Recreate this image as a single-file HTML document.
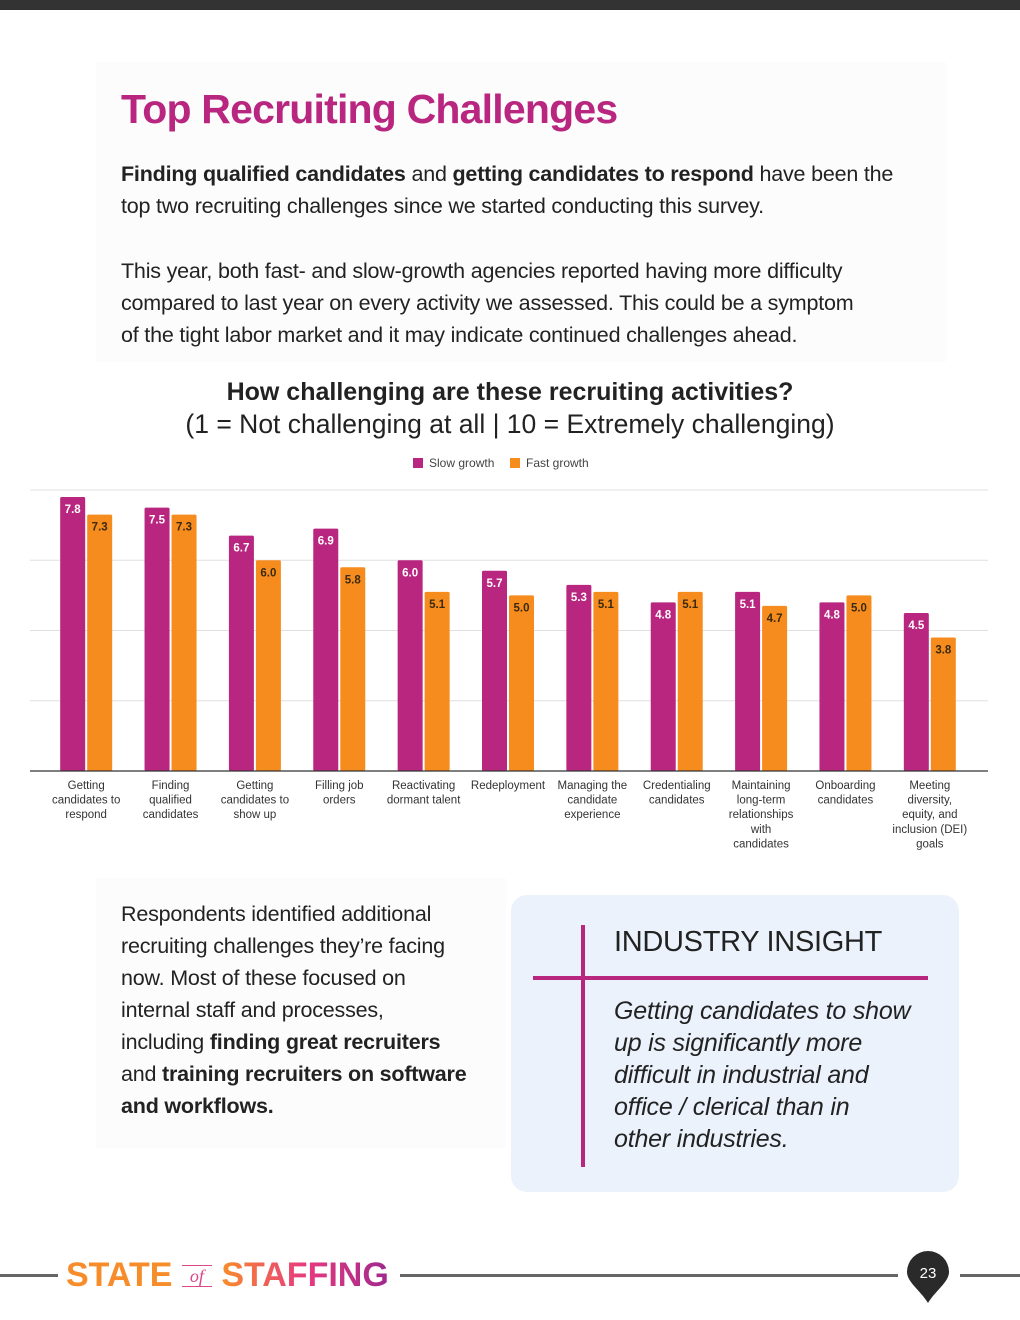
<!DOCTYPE html>
<html><head><meta charset="utf-8"><style>
body{margin:0;width:1020px;height:1320px;background:#fff;position:relative;font-family:"Liberation Sans",sans-serif;overflow:hidden;color:#222}
.abs{position:absolute}
p{margin:0}
</style></head><body>
<div class="abs" style="left:0;top:0;width:1020px;height:10px;background:#333"></div>
<div class="abs" style="left:96px;top:62px;width:850px;height:300px;background:#fcfcfc"></div>
<h1 class="abs" style="left:121px;top:86px;margin:0;font-size:41px;font-weight:bold;color:#b8267f;letter-spacing:-0.8px">Top Recruiting Challenges</h1>
<div class="abs" style="left:121px;top:158px;width:800px;font-size:21.5px;line-height:32px;color:#222;letter-spacing:-0.2px;white-space:nowrap">
<p><b>Finding qualified candidates</b> and <b>getting candidates to respond</b> have been the<br>top two recruiting challenges since we started conducting this survey.</p>
<p style="margin-top:33px">This year, both fast- and slow-growth agencies reported having more difficulty<br>compared to last year on every activity we assessed. This could be a symptom<br>of the tight labor market and it may indicate continued challenges ahead.</p>
</div>
<div class="abs" style="left:0;top:376px;width:1020px;text-align:center;font-size:25px;line-height:32px;color:#222"><b>How challenging are these recruiting activities?</b><br><span style="font-size:26.5px">(1 = Not challenging at all | 10 = Extremely challenging)</span></div>
<svg class="abs" style="left:0;top:445px" width="1020" height="420" id="chart"></svg>
<div class="abs" style="left:96px;top:878px;width:410px;height:270px;background:#fcfcfc"></div>
<div class="abs" style="left:121px;top:898px;width:385px;font-size:21.5px;line-height:32px;color:#222;letter-spacing:-0.2px;white-space:nowrap">Respondents identified additional<br>recruiting challenges they’re facing<br>now. Most of these focused on<br>internal staff and processes,<br>including <b>finding great recruiters</b><br>and <b>training recruiters on software</b><br><b>and workflows.</b></div>
<div class="abs" style="left:511px;top:895px;width:448px;height:297px;background:#ebf2fc;border-radius:16px"></div>
<div class="abs" style="left:581px;top:925px;width:4px;height:242px;background:#b8267f"></div>
<div class="abs" style="left:533px;top:976px;width:395px;height:4px;background:#b8267f"></div>
<div class="abs" style="left:614px;top:926px;font-size:29px;color:#222;letter-spacing:-0.3px">INDUSTRY INSIGHT</div>
<div class="abs" style="left:614px;top:995px;width:330px;font-size:25px;line-height:32px;font-style:italic;color:#222;letter-spacing:-0.2px;white-space:nowrap">Getting candidates to show<br>up is significantly more<br>difficult in industrial and<br>office / clerical than in<br>other industries.</div>
<div class="abs" style="left:0;top:1274px;width:58px;height:3px;background:#666"></div>
<div class="abs" style="left:66px;top:1256px;font-size:34px;font-weight:bold;letter-spacing:0px;white-space:nowrap"><span style="color:#f78d2a">STATE</span> <span style="color:#d9478f;font-family:'Liberation Serif',serif;font-style:italic;font-size:18px;font-weight:normal;border-top:1px solid #d9478f;border-bottom:1px solid #d9478f;padding:0 8px;vertical-align:4px">of</span> <span style="background:linear-gradient(90deg,#f78d2a,#e83a7e,#a0288e);-webkit-background-clip:text;color:transparent">STAFFING</span></div>
<div class="abs" style="left:400px;top:1274px;width:498px;height:3px;background:#666"></div>
<div class="abs" style="left:960px;top:1274px;width:60px;height:3px;background:#666"></div>
<svg class="abs" style="left:906px;top:1250px" width="44" height="54"><path d="M22 1 A21 21 0 0 1 43 22 C43 32 30 40 22 53 C14 40 1 32 1 22 A21 21 0 0 1 22 1Z" fill="#2a2a2a"/><text x="22" y="28" text-anchor="middle" font-size="15" fill="#fff" font-family="Liberation Sans">23</text></svg>
<script>
const categories=[["Getting","candidates to","respond"],["Finding","qualified","candidates"],["Getting","candidates to","show up"],["Filling job","orders"],["Reactivating","dormant talent"],["Redeployment"],["Managing the","candidate","experience"],["Credentialing","candidates"],["Maintaining","long-term","relationships","with","candidates"],["Onboarding","candidates"],["Meeting","diversity,","equity, and","inclusion (DEI)","goals"]];
const slowGrowth=[7.8,7.5,6.7,6.9,6.0,5.7,5.3,4.8,5.1,4.8,4.5];
const fastGrowth=[7.3,7.3,6.0,5.8,5.1,5.0,5.1,5.1,4.7,5.0,3.8];
const gridTicks=[0,2,4,6,8];
const svg=document.getElementById('chart');const NS='http://www.w3.org/2000/svg';
const top0=45,base=326,left=30,right=988,bandL=44,bandR=972,yMax=8;
const y=v=>base-(v/yMax)*(base-top0);
const step=(bandR-bandL)/categories.length;
const cx=i=>bandL+step*(i+0.5);
function mk(t,a){const e=document.createElementNS(NS,t);for(const k in a)e.setAttribute(k,a[k]);svg.appendChild(e);return e;}
gridTicks.forEach(t=>{if(t===0)return;const l=mk('line',{x1:left,x2:right,y1:y(t),y2:y(t),stroke:'#e0e0e0','stroke-width':1});

});
let lg=mk('rect',{x:413,y:13,width:10,height:10,fill:'#b8267f'});


let lt=mk('text',{x:429,y:22,'font-size':12,fill:'#444','font-family':'Liberation Sans'});lt.textContent='Slow growth';


lg=mk('rect',{x:510,y:13,width:10,height:10,fill:'#f78c1e'});


lt=mk('text',{x:526,y:22,'font-size':12,fill:'#444','font-family':'Liberation Sans'});lt.textContent='Fast growth';


const bw=25,gap=2;
categories.forEach((c,i)=>{
 const sx=cx(i)-bw-gap/2,fx=cx(i)+gap/2;
 const s=mk('rect',{x:sx,y:y(slowGrowth[i]),width:bw,height:base-y(slowGrowth[i]),fill:'#b8267f',rx:1.5});
 
 
 const f=mk('rect',{x:fx,y:y(fastGrowth[i]),width:bw,height:base-y(fastGrowth[i]),fill:'#f78c1e',rx:1.5});
 
 
 const st=mk('text',{x:sx+bw/2,y:y(slowGrowth[i])+16,'text-anchor':'middle','font-size':11.5,'font-weight':'bold',fill:'#fff','font-family':'Liberation Sans'});st.textContent=slowGrowth[i].toFixed(1);
 
 
 const ft=mk('text',{x:fx+bw/2,y:y(fastGrowth[i])+16,'text-anchor':'middle','font-size':11.5,'font-weight':'bold',fill:'#3a2a10','font-family':'Liberation Sans'});ft.textContent=fastGrowth[i].toFixed(1);
 
 
 c.forEach((ln,j)=>{const t=mk('text',{x:cx(i),y:base+18+j*14.6,'text-anchor':'middle','font-size':11.5,fill:'#333','font-family':'Liberation Sans'});t.textContent=ln;
 
 });
});
const ax=mk('line',{x1:left,x2:right,y1:base,y2:base,stroke:'#333','stroke-width':1.3});


</script>
</body></html>
